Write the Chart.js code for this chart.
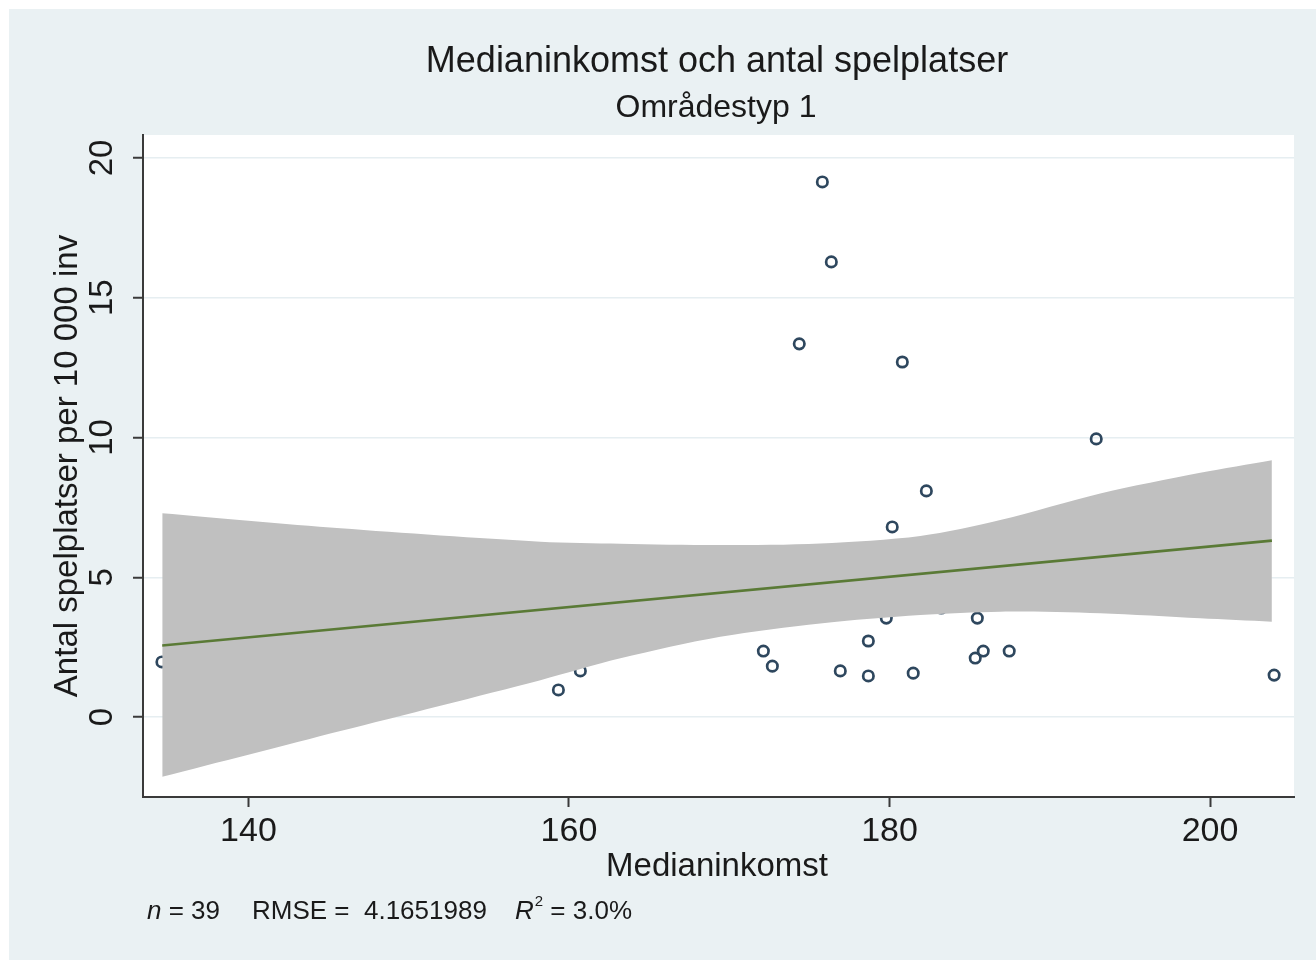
<!DOCTYPE html>
<html><head><meta charset="utf-8">
<script src="https://cdn.jsdelivr.net/npm/chart.js@4.4.1/dist/chart.umd.min.js"></script>
<style>html,body{margin:0;padding:0;background:#fff;} canvas{display:block;}</style>
</head><body>
<canvas id="c" width="1316" height="960"></canvas>
<script>
// ---- text ----
const titleText = 'Medianinkomst och antal spelplatser';
const subtitleText = 'Områdestyp 1';
const xAxisTitle = 'Medianinkomst';
const yAxisTitle = 'Antal spelplatser per 10 000 inv';
const statN = '39';
const statRMSE = '4.1651989';
const statR2 = '3.0%';

// ---- ticks ----
const xTicks = [140, 160, 180, 200];
const yTicks = [0, 5, 10, 15, 20];

// ---- visible observations ----
const pointX = [134.6, 159.34, 160.71, 172.13, 172.69, 174.37, 175.81, 176.37, 176.93, 178.68, 178.68, 179.80,
                180.17, 180.80, 181.48, 182.30, 183.23, 185.48, 185.35, 185.85, 187.47, 192.90, 204.0];
const pointY = [1.97, 0.97, 1.65, 2.36, 1.82, 13.35, 19.14, 16.28, 1.65, 2.72, 1.47, 3.54,
                6.80, 12.70, 1.57, 8.09, 3.90, 3.54, 2.11, 2.36, 2.36, 9.95, 1.50];

// ---- fitted line ----
const fitX = [134.62, 203.86];
const fitY = [2.56, 6.31];

// ---- confidence band ----
const bandX     = [134.62, 145.74, 158.22, 163.21, 169.44, 175.68, 181.92, 186.91, 193.15, 199.39, 203.86];
const bandUpper = [7.29, 6.75, 6.27, 6.20, 6.15, 6.21, 6.48, 7.05, 8.00, 8.74, 9.19];
const bandLower = [-2.14, -0.50, 1.32, 2.10, 2.87, 3.35, 3.65, 3.77, 3.71, 3.53, 3.41];

const FONT = "'Liberation Sans', Arial, Helvetica, sans-serif";
const TXT = '#1a1a1a';

const bgPlugin = {
  id: 'bg',
  beforeDraw(chart) {
    const ctx = chart.ctx, a = chart.chartArea;
    ctx.save();
    ctx.fillStyle = '#ffffff';
    ctx.fillRect(0, 0, chart.width, chart.height);
    ctx.fillStyle = '#eaf1f3';
    ctx.fillRect(9, 9, chart.width - 9, chart.height - 9);
    ctx.fillStyle = '#ffffff';
    ctx.fillRect(a.left, a.top, a.right - a.left, a.bottom - a.top);
    ctx.restore();
  }
};

const textPlugin = {
  id: 'texts',
  afterDraw(chart) {
    const ctx = chart.ctx;
    const xs = chart.scales.x, ys = chart.scales.y;
    ctx.save();
    ctx.fillStyle = TXT;
    ctx.textBaseline = 'middle';
    ctx.textAlign = 'center';
    // titles
    ctx.font = '36px ' + FONT;
    ctx.fillText(titleText, 717, 62);
    ctx.font = '32px ' + FONT;
    ctx.fillText(subtitleText, 716, 108);
    // x tick labels
    ctx.font = '34px ' + FONT;
    xTicks.forEach(v => ctx.fillText(String(v), xs.getPixelForValue(v), 832));
    // x title
    ctx.font = '33px ' + FONT;
    ctx.fillText(xAxisTitle, 717, 867);
    // y tick labels (rotated)
    ctx.font = '33px ' + FONT;
    yTicks.forEach(v => {
      ctx.save();
      ctx.translate(103, ys.getPixelForValue(v));
      ctx.rotate(-Math.PI / 2);
      ctx.fillText(String(v), 0, 0);
      ctx.restore();
    });
    // y title
    ctx.save();
    ctx.translate(68, 466);
    ctx.rotate(-Math.PI / 2);
    ctx.font = '33px ' + FONT;
    ctx.fillText(yAxisTitle, 0, 0);
    ctx.restore();
    // footer stats
    ctx.textAlign = 'left';
    let x = 147; const y = 912;
    ctx.font = 'italic 26px ' + FONT;
    ctx.fillText('n', x, y); x += ctx.measureText('n').width;
    ctx.font = '26px ' + FONT;
    ctx.fillText(' = ' + statN, x, y);
    x = 252;
    ctx.fillText('RMSE =  ' + statRMSE, x, y);
    x = 515;
    ctx.font = 'italic 26px ' + FONT;
    ctx.fillText('R', x, y); x += ctx.measureText('R').width + 1;
    ctx.font = '15px ' + FONT;
    ctx.fillText('2', x, y - 10); x += ctx.measureText('2').width;
    ctx.font = '26px ' + FONT;
    ctx.fillText(' = ' + statR2, x, y);
    ctx.restore();
  }
};

const AXIS = '#3a3a3a';

new Chart(document.getElementById('c'), {
  type: 'line',
  data: {
    datasets: [
      {
        label: 'Fitted values',
        data: fitX.map((x, i) => ({x, y: fitY[i]})),
        borderColor: '#5a7a36',
        borderWidth: 2.6,
        pointRadius: 0,
        fill: false,
        order: 0
      },
      {
        label: 'CI upper',
        data: bandX.map((x, i) => ({x, y: bandUpper[i]})),
        borderWidth: 0,
        borderColor: 'rgba(0,0,0,0)',
        backgroundColor: '#c0c0c0',
        pointRadius: 0,
        tension: 0.3,
        fill: '+1',
        order: 1
      },
      {
        label: 'CI lower',
        data: bandX.map((x, i) => ({x, y: bandLower[i]})),
        borderWidth: 0,
        borderColor: 'rgba(0,0,0,0)',
        pointRadius: 0,
        tension: 0.3,
        fill: false,
        order: 1
      },
      {
        label: 'Observations',
        data: pointX.map((x, i) => ({x, y: pointY[i]})),
        showLine: false,
        pointRadius: 5.2,
        pointBorderWidth: 2.7,
        pointBackgroundColor: 'rgba(0,0,0,0)',
        pointBorderColor: '#2e475e',
        fill: false,
        order: 3
      }
    ]
  },
  options: {
    responsive: false,
    animation: false,
    events: [],
    layout: { padding: { left: 143, right: 22, top: 135, bottom: 163 } },
    plugins: { legend: { display: false }, tooltip: { enabled: false }, title: { display: false } },
    scales: {
      x: {
        type: 'linear',
        min: 133.42, max: 205.24,
        afterBuildTicks: s => { s.ticks = xTicks.map(v => ({value: v})); },
        afterFit: s => { s.height = 0; },
        ticks: { display: false },
        grid: { drawOnChartArea: false, drawTicks: true, tickLength: 10, tickWidth: 2, tickColor: AXIS },
        border: { display: true, color: AXIS, width: 2 }
      },
      y: {
        type: 'linear',
        min: -2.86, max: 20.82,
        afterBuildTicks: s => { s.ticks = yTicks.map(v => ({value: v})); },
        afterFit: s => { s.width = 0; },
        ticks: { display: false },
        grid: { drawOnChartArea: true, color: '#e6eef1', lineWidth: 1.5, drawTicks: true, tickLength: 10, tickWidth: 2, tickColor: AXIS },
        border: { display: true, color: AXIS, width: 2 }
      }
    }
  },
  plugins: [bgPlugin, textPlugin]
});
</script>
</body></html>
